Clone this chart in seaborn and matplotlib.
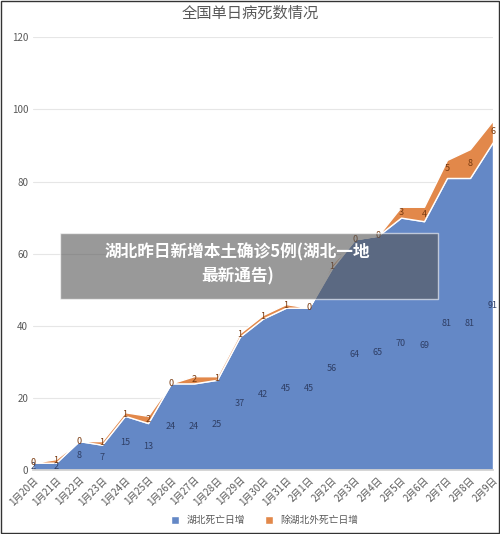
import matplotlib
matplotlib.use("Agg")
import matplotlib.pyplot as plt
import seaborn as sns
import numpy as np
from matplotlib.patches import Rectangle

sns.set_theme(style="white")
plt.rcParams['font.family'] = ['Noto Sans CJK SC', 'DejaVu Sans']

dates = ["1月20日","1月21日","1月22日","1月23日","1月24日","1月25日","1月26日","1月27日","1月28日","1月29日","1月30日",
         "1月31日","2月1日","2月2日","2月3日","2月4日","2月5日","2月6日","2月7日","2月8日","2月9日"]
hubei = [2,2,8,7,15,13,24,24,25,37,42,45,45,56,64,65,70,69,81,81,91]
outside = [0,1,0,1,1,2,0,2,1,1,1,1,0,1,0,0,3,4,5,8,6]

blue = "#6488c6"
orange = "#e2884a"
fig = plt.figure(figsize=(5.0, 5.34), dpi=100)
ax = fig.add_axes([0.066, 0.12, 0.92, 0.81])
x = np.arange(len(dates))
h = np.array(hubei); o = np.array(outside)
ax.stackplot(x, h, o, colors=[blue, orange], labels=["湖北死亡日增", "除湖北外死亡日增"])
for i in x:
    ax.text(i, h[i] / 2, str(h[i]), ha="center", va="center", fontsize=6.5, color="#2f3f66")
    ax.text(i, h[i] + o[i] / 2, str(o[i]), ha="center", va="center", fontsize=6.5, color="#7a3b10")
ax.set_xlim(0, len(dates) - 1)
ax.set_ylim(0, 120)
ax.set_yticks(range(0, 121, 20))
ax.yaxis.grid(True, color="#e6e6e6", lw=0.8)
ax.set_axisbelow(True)
ax.set_xticks(x)
ax.set_xticklabels(dates, rotation=45, ha="right", rotation_mode="anchor", fontsize=7, color="#595959")
ax.tick_params(axis="y", labelsize=7, labelcolor="#595959", length=0)
ax.tick_params(axis="x", length=0)
for s in ["top", "right", "left"]:
    ax.spines[s].set_visible(False)
ax.spines["bottom"].set_color("#d0d0d0")
fig.text(0.5, 0.975, "全国单日病死数情况", ha="center", va="center", fontsize=11, color="#595959")
fig.legend(loc="lower center", ncol=2, frameon=False, fontsize=7, bbox_to_anchor=(0.53, 0.0),
           handlelength=0.8, handleheight=0.8, labelcolor="#595959")
fig.patches.append(Rectangle((0.12, 0.44), 0.755, 0.124, transform=fig.transFigure,
                             facecolor="#555555", alpha=0.6, zorder=5))
fig.text(0.475, 0.505, "湖北昨日新增本土确诊5例(湖北一地\n最新通告)", ha="center", va="center",
         fontsize=12, color="white", fontweight="bold", zorder=6, linespacing=1.4)
fig.patches.append(Rectangle((0.002, 0.002), 0.996, 0.996, transform=fig.transFigure,
                             facecolor="none", edgecolor="#333333", lw=1))
fig.savefig("out.png", dpi=100)
